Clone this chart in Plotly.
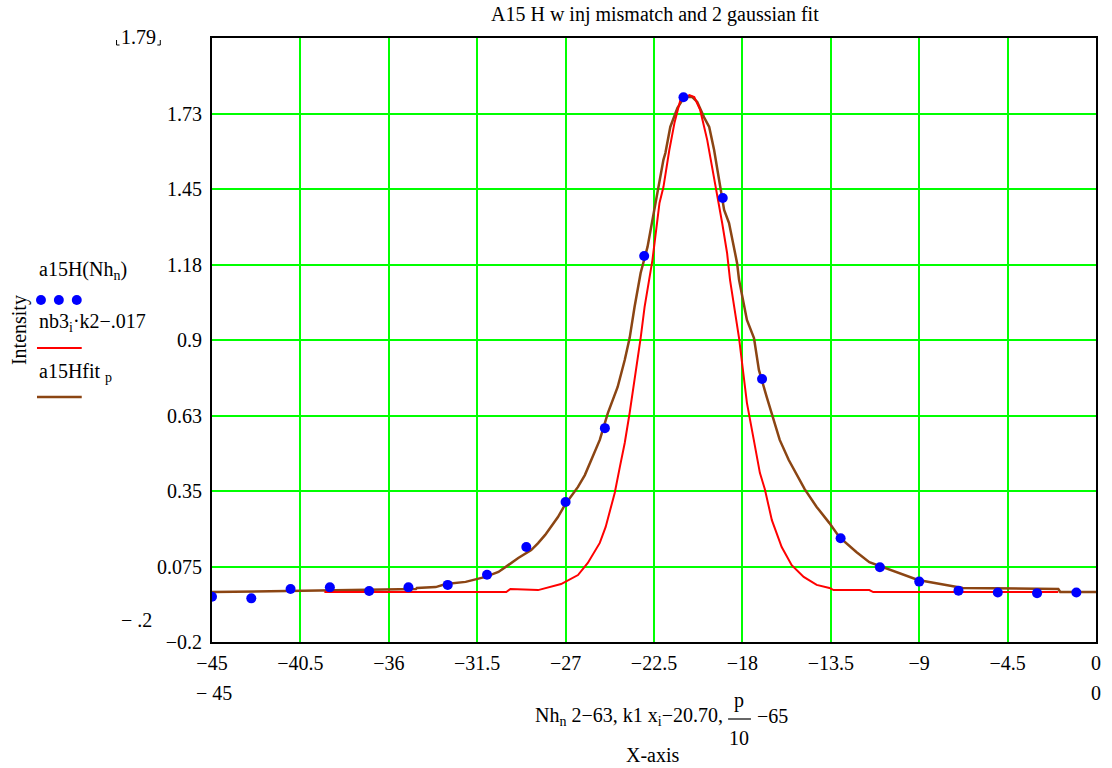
import plotly.graph_objects as go

# ---- data ----
pts_x = [-45, -43, -41, -39, -37, -35, -33, -31, -29, -27, -25, -23, -21, -19, -17,
         -13, -11, -9, -7, -5, -3, -1]
pts_y = [-0.035, -0.041, -0.007, -0.001, -0.014, -0.001, 0.008, 0.045, 0.146, 0.310,
         0.579, 1.206, 1.784, 1.417, 0.758, 0.178, 0.072, 0.020, -0.013, -0.020,
         -0.022, -0.020]

red_x = [-39.28, -30.02, -29.81, -28.40, -27.23, -26.37, -25.87, -25.26, -24.96, -24.50,
         -24.24, -23.99, -23.74, -23.48, -23.33, -23.18, -22.98, -22.73, -22.58, -22.22,
         -22.02, -21.72, -21.46, -21.16, -20.70, -20.45, -20.15, -19.79, -19.54, -19.29,
         -19.03, -18.78, -18.63, -18.17, -17.77, -17.42, -17.11, -16.86, -16.50, -16.00,
         -15.49, -14.88, -14.22, -13.57, -13.36, -11.54, -11.34, -1.92]
red_y = [-0.018, -0.018, -0.007, -0.011, 0.011, 0.044, 0.088, 0.161, 0.219, 0.343,
         0.437, 0.525, 0.634, 0.754, 0.838, 0.907, 1.020, 1.119, 1.191, 1.399,
         1.457, 1.592, 1.690, 1.774, 1.792, 1.785, 1.738, 1.628, 1.530, 1.435,
         1.326, 1.217, 1.119, 0.907, 0.671, 0.536, 0.416, 0.357, 0.244, 0.146,
         0.080, 0.037, 0.008, -0.003, -0.011, -0.011, -0.018, -0.018]

fit_x = [-45.00, -39.28, -34.62, -34.57, -33.61, -33.10, -32.09, -31.08, -30.42, -29.92,
         -29.41, -28.75, -28.40, -28.04, -27.39, -27.03, -26.37, -26.02, -25.71, -25.26,
         -24.85, -24.35, -23.99, -23.74, -23.49, -23.18, -22.83, -22.47, -22.22, -22.02,
         -21.92, -21.67, -21.31, -20.96, -20.55, -20.30, -19.95, -19.69, -19.44, -18.93,
         -18.68, -18.27, -18.17, -17.77, -17.41, -17.16, -16.76, -16.50, -16.10, -15.64,
         -14.83, -14.22, -13.57, -13.06, -12.20, -11.54, -9.06, -6.78, -1.92, -1.82, 0.00]
fit_y = [-0.018, -0.011, -0.007, -0.003, 0.000, 0.011, 0.019, 0.037, 0.055, 0.080,
         0.106, 0.135, 0.160, 0.190, 0.255, 0.300, 0.365, 0.408, 0.463, 0.536,
         0.634, 0.729, 0.827, 0.907, 1.020, 1.144, 1.239, 1.384, 1.472, 1.556,
         1.581, 1.676, 1.745, 1.785, 1.785, 1.767, 1.711, 1.676, 1.592, 1.374,
         1.326, 1.180, 1.119, 0.973, 0.907, 0.791, 0.692, 0.634, 0.536, 0.463,
         0.357, 0.292, 0.233, 0.182, 0.128, 0.091, 0.026, -0.003, -0.007, -0.018, -0.018]

x_tickvals = [-45, -40.5, -36, -31.5, -27, -22.5, -18, -13.5, -9, -4.5, 0]
x_ticktext = ["−45", "−40.5", "−36", "−31.5", "−27", "−22.5", "−18", "−13.5", "−9", "−4.5", "0"]
y_tickvals = [-0.2, 0.075, 0.35, 0.625, 0.9, 1.175, 1.45, 1.725]
y_ticktext = ["−0.2", "0.075", "0.35", "0.63", "0.9", "1.18", "1.45", "1.73"]

FONT = "Liberation Serif"
GREEN = "#00FF00"
RED = "#FF0000"
BROWN = "#8B4513"
BLUE = "#0000FF"

# plot area in pixels: x 212..1101, y 38..642
L, R, T, B = 212, 1101, 38, 642
def px(xp):
    return (xp - L) / (R - L)
def py(yp):
    return (B - yp) / (B - T)

fig = go.Figure()
fig.add_trace(go.Scatter(x=fit_x, y=fit_y, mode="lines",
                         line=dict(color=BROWN, width=2.5), showlegend=False))
fig.add_trace(go.Scatter(x=red_x, y=red_y, mode="lines",
                         line=dict(color=RED, width=2), showlegend=False))
fig.add_trace(go.Scatter(x=pts_x, y=pts_y, mode="markers",
                         marker=dict(color=BLUE, size=10), showlegend=False))

annotations = [
    dict(text="A15 H w inj mismatch and 2 gaussian fit", x=px(658), y=py(14),
         font=dict(size=20)),
    dict(text="1.79", x=px(138), y=py(37), font=dict(size=20)),
    dict(text="− .2", x=px(136), y=py(620), font=dict(size=20)),
    dict(text="− 45", x=px(214), y=py(693), font=dict(size=20)),
    dict(text="0", x=px(1101), y=py(693), font=dict(size=20)),
    dict(text="Nh<sub>n</sub> 2−63, k1 x<sub>i</sub>−20.70,", x=px(728), y=py(716),
         xanchor="right", font=dict(size=20)),
    dict(text="p", x=px(742), y=py(700), font=dict(size=20)),
    dict(text="10", x=px(742), y=py(738), font=dict(size=20)),
    dict(text="−65", x=px(758), y=py(716), xanchor="left", font=dict(size=20)),
    dict(text="X-axis", x=px(655), y=py(755), font=dict(size=20)),
    dict(text="Intensity", x=px(18), y=py(330), textangle=-90, font=dict(size=20)),
    dict(text="a15H(Nh<sub>n</sub>)", x=px(36), y=py(270), xanchor="left", font=dict(size=20)),
    dict(text="nb3<sub>i</sub>·k2−.017", x=px(36), y=py(322), xanchor="left", font=dict(size=20)),
    dict(text="a15Hfit <sub>p</sub>", x=px(36), y=py(372), xanchor="left", font=dict(size=20)),
]
for a in annotations:
    a.update(xref="paper", yref="paper", showarrow=False)
    a.setdefault("xanchor", "center")
    a["yanchor"] = "middle"
    a["font"].update(family=FONT, color="black")

shapes = []
# legend samples
for cx in (40, 58, 76):
    shapes.append(dict(type="circle", xref="paper", yref="paper",
                       x0=px(cx - 5), x1=px(cx + 5), y0=py(300 + 5), y1=py(300 - 5),
                       fillcolor=BLUE, line=dict(color=BLUE, width=0)))
shapes.append(dict(type="line", xref="paper", yref="paper", x0=px(36), x1=px(81),
                   y0=py(348), y1=py(348), line=dict(color=RED, width=2)))
shapes.append(dict(type="line", xref="paper", yref="paper", x0=px(36), x1=px(81),
                   y0=py(397), y1=py(397), line=dict(color=BROWN, width=2.5)))
# fraction bar
shapes.append(dict(type="line", xref="paper", yref="paper", x0=px(731), x1=px(754),
                   y0=py(719), y1=py(719), line=dict(color="black", width=1.2)))
# corner marks around 1.79
for x0, x1 in ((116, 119), (160, 157)):
    shapes.append(dict(type="path", xref="paper", yref="paper",
                       path=f"M {px(x0)},{py(40)} L {px(x0)},{py(45)} L {px(x1)},{py(45)}",
                       line=dict(color="black", width=1)))

fig.update_layout(
    width=1112, height=768,
    margin=dict(l=L, r=1112 - R, t=T, b=768 - B),
    paper_bgcolor="white", plot_bgcolor="white",
    font=dict(family=FONT, size=20, color="black"),
    annotations=annotations, shapes=shapes,
    showlegend=False,
    xaxis=dict(range=[-45, 0], tickvals=x_tickvals, ticktext=x_ticktext,
               showgrid=True, gridcolor=GREEN, gridwidth=2, zeroline=False,
               showline=True, linecolor="black", linewidth=2, mirror=True,
               ticks="", tickfont=dict(family=FONT, size=20), ticklabelstandoff=2),
    yaxis=dict(range=[-0.2, 2.0], tickvals=y_tickvals, ticktext=y_ticktext,
               showgrid=True, gridcolor=GREEN, gridwidth=2, zeroline=False,
               showline=True, linecolor="black", linewidth=2, mirror=True,
               ticks="", tickfont=dict(family=FONT, size=20), ticklabelstandoff=4),
)

fig.write_html("out.html")
